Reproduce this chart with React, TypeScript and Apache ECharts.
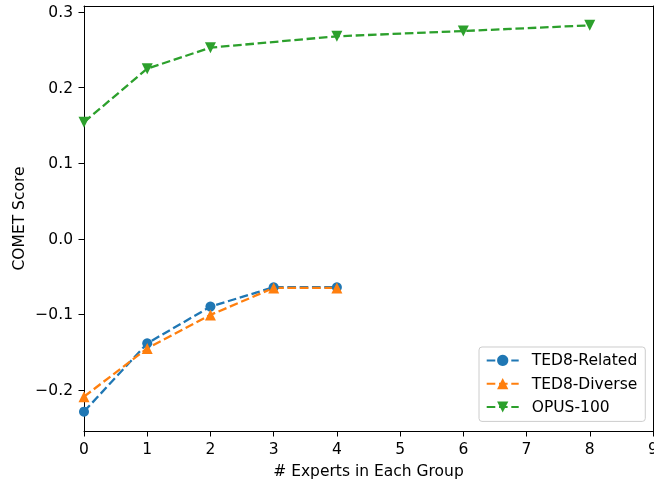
import React, { useEffect, useRef } from "react";
import * as echarts from "echarts";

const xRelated = [0, 1, 2, 3, 4];
const yRelated = [-0.2287, -0.1383, -0.0897, -0.0641, -0.0641];
const xDiverse = [0, 1, 2, 3, 4];
const yDiverse = [-0.2089, -0.145, -0.1007, -0.065, -0.065];
const xOpus = [0, 1, 2, 4, 6, 8];
const yOpus = [0.1544, 0.2252, 0.253, 0.268, 0.275, 0.2825];
const yTicks = [-0.2, -0.1, 0.0, 0.1, 0.2, 0.3];
const seriesNames = ["TED8-Related", "TED8-Diverse", "OPUS-100"];
const colors = ["#1f77b4", "#ff7f0e", "#2ca02c"];

const FONT = "DejaVu Sans";
const FS = 15.5;

export default function App() {
  const ref = useRef<HTMLDivElement>(null);
  useEffect(() => {
    if (!ref.current) return;
    const chart = echarts.init(ref.current, null, { renderer: "svg" });
    const pair = (xs: number[], ys: number[]) => xs.map((x, i) => [x, ys[i]]);
    const mk = (name: string, data: number[][], color: string, symbol: string, rotate: number, size: number) => ({
      name,
      type: "line",
      xAxisIndex: 0,
      yAxisIndex: 0,
      data,
      symbol,
      symbolRotate: rotate,
      symbolSize: size,
      showSymbol: true,
      itemStyle: { color },
      lineStyle: { color, width: 2.3, type: [8.6, 3.7] },
      z: 3,
    });
    const frameAxis = {
      type: "value",
      axisLine: { show: true, onZero: false, lineStyle: { color: "#000", width: 1 } },
      axisTick: { show: false },
      axisLabel: { show: false },
      splitLine: { show: false },
    };
    chart.setOption({
      animation: false,
      textStyle: { fontFamily: FONT },
      grid: {
        left: 84,
        right: 1,
        top: 6,
        bottom: 49,
        containLabel: false,
        outerBoundsMode: "none",
      },
      legend: {
        orient: "vertical",
        left: 479,
        top: 347,
        padding: [4.4, 8, 5.4, 6.7],
        itemWidth: 32,
        itemHeight: 14,
        itemGap: 5.3,
        backgroundColor: "rgba(255,255,255,0.8)",
        borderColor: "#cccccc",
        borderWidth: 1,
        borderRadius: 3,
        textStyle: { fontFamily: FONT, fontSize: FS, color: "#000", lineHeight: 18, padding: [0, 0, 0, 8] },
        data: seriesNames,
      },
      xAxis: [
        {
          type: "value",
          min: 0,
          max: 9,
          interval: 1,
          name: "# Experts in Each Group",
          nameLocation: "middle",
          nameGap: 32,
          nameMoveOverlap: false,
          nameTextStyle: { fontFamily: FONT, fontSize: FS, color: "#000" },
          splitLine: { show: false },
          axisLine: { show: true, onZero: false, lineStyle: { color: "#000" } },
          axisTick: { show: true, length: 5.5, lineStyle: { color: "#000" } },
          axisLabel: { margin: 10, fontFamily: FONT, fontSize: FS, color: "#000" },
        },
        { ...frameAxis, position: "top", min: 0, max: 9 },
      ],
      yAxis: [
        {
          type: "value",
          min: -0.2543,
          max: 0.3081,
          name: "COMET Score",
          nameLocation: "middle",
          nameGap: 57,
          nameMoveOverlap: false,
          nameTextStyle: { fontFamily: FONT, fontSize: FS, color: "#000" },
          splitLine: { show: false },
          axisLine: { show: true, onZero: false, lineStyle: { color: "#000" } },
          axisTick: { show: true, length: 5.5, customValues: yTicks, lineStyle: { color: "#000" } },
          axisLabel: {
            margin: 11,
            fontFamily: FONT,
            fontSize: FS,
            color: "#000",
            customValues: yTicks,
            formatter: (v: number) => {
              const s = Math.abs(v).toFixed(1);
              return v < -1e-9 ? "\u2212" + s : s;
            },
          },
        },
        { ...frameAxis, position: "right", min: -0.2543, max: 0.3081 },
      ],
      series: [
        mk(seriesNames[0], pair(xRelated, yRelated), colors[0], "circle", 0, 10),
        mk(seriesNames[1], pair(xDiverse, yDiverse), colors[1], "triangle", 0, 11),
        mk(seriesNames[2], pair(xOpus, yOpus), colors[2], "triangle", 180, 11),
      ],
    });
    return () => chart.dispose();
  }, []);
  return <div ref={ref} style={{ position: "fixed", left: 0, top: 0, width: 654, height: 480 }} />;
}
